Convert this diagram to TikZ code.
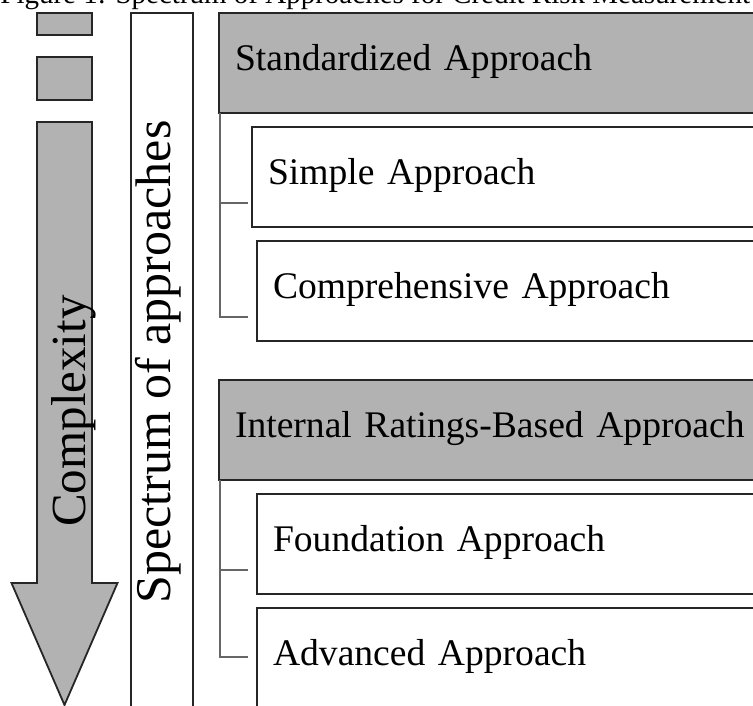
\documentclass[tikz,border=0pt]{standalone}
\usepackage{fontspec}
\setmainfont{Liberation Serif}
\usetikzlibrary{positioning}

\definecolor{boxgray}{HTML}{B2B2B2}

\tikzset{
  tier/.style={draw=black!85, line width=0.9pt, outer sep=0pt, inner xsep=8pt, inner ysep=0pt,
    minimum height=50pt, text width=260pt, align=left, text height=0.75em, text depth=0pt,
    font=\fontsize{18.8}{22}\selectfont},
  headbox/.style={tier, fill=boxgray},
  subbox/.style={tier, fill=white},
  piece/.style={draw=black!85, line width=0.9pt, fill=boxgray, minimum width=27.5pt,
    inner sep=0pt, outer sep=0pt, anchor=north west},
  bracket/.style={draw=black!60, line width=0.9pt},
}

\begin{document}
\begin{tikzpicture}
\useasboundingbox (0,0) rectangle (376.5pt,-352.5pt);
\clip (0,0) rectangle (376.5pt,-352.5pt);

\node[anchor=base west, inner sep=0pt, font=\fontsize{14.5}{17}\selectfont] (caption) at (0pt,-2pt)
  {Figure 1: Spectrum of Approaches for Credit Risk Measurement};

\node[piece, minimum height=11pt] (bar1) at (18.5pt,-6.5pt) {};
\node[piece, minimum height=21.5pt] (bar2) at (18.5pt,-28.5pt) {};
\draw[draw=black!85, line width=0.9pt, fill=boxgray]
  (18.5pt,-61pt) -- (46pt,-61pt) -- (46pt,-291.5pt) -- (58.75pt,-291.5pt)
  -- (32.25pt,-352.5pt) -- (5.75pt,-291.5pt) -- (18.5pt,-291.5pt) -- cycle;
\node[rotate=90, anchor=base, inner sep=0pt, font=\fontsize{24.5}{29}\selectfont] (cplx)
  at (42.5pt,-205.5pt) {Complexity};

\node[draw=black!85, line width=0.9pt, fill=white, rotate=90, minimum width=349pt, minimum height=31pt,
  inner sep=0pt, outer sep=0pt, text height=0.8em, text depth=0pt, font=\fontsize{25}{30}\selectfont]
  (spec) at (81pt,-181pt) {Spectrum of approaches};

\node[headbox, anchor=north west] (std) at (109.5pt,-6.5pt) {Standardized Approach};
\node[subbox, below right=7pt and 16.5pt of std.south west] (simple) {Simple Approach};
\node[subbox, below right=7pt and 2.5pt of simple.south west] (comp) {Comprehensive Approach};
\node[headbox, below=19.5pt of comp.south west, xshift=-19pt, anchor=north west] (irb) {Internal Ratings-Based Approach};
\node[subbox, below right=7pt and 19pt of irb.south west] (found) {Foundation Approach};
\node[subbox, below right=7pt and 0pt of found.south west] (adv) {Advanced Approach};

\draw[bracket] ([xshift=0.5pt]std.south west) |- ([xshift=-2pt,yshift=12pt]simple.south west);
\draw[bracket] ([xshift=0.5pt]std.south west) |- ([xshift=-4.5pt,yshift=12pt]comp.south west);
\draw[bracket] ([xshift=0.5pt]irb.south west) |- ([xshift=-4.5pt,yshift=12pt]found.south west);
\draw[bracket] ([xshift=0.5pt]irb.south west) |- ([xshift=-4.5pt,yshift=-24.5pt]adv.north west);
\end{tikzpicture}
\end{document}
